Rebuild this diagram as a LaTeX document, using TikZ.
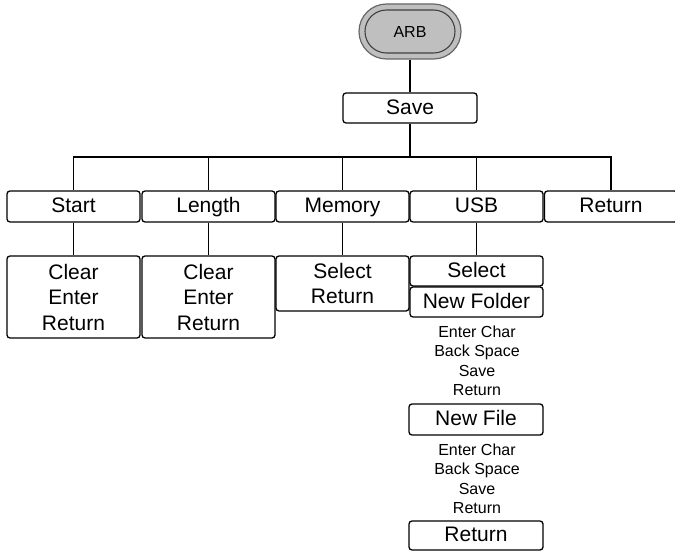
\documentclass[tikz,border=0pt]{standalone}
\usepackage{fontspec}
\setmainfont{Liberation Sans}
\begin{document}
\begin{tikzpicture}[x=1pt,y=1pt,
  line width=1.3pt,
  btn/.style={draw=black, rounded corners=3pt, inner sep=0pt, align=center,
    font=\fontsize{21}{25.5}\selectfont, minimum width=133pt},
  one/.style={text height=15pt, text depth=2.5pt},
  small/.style={inner sep=0pt, align=center, font=\fontsize{16}{19.5}\selectfont},
  link/.style={draw=black, line width=1.3pt}
]
\useasboundingbox (0,0) rectangle (675,-551);
% ARB terminal
\node[draw=black!60, fill=black!25, line width=1.2pt, rounded corners=27.5pt,
  minimum width=102pt, minimum height=55pt, inner sep=0pt] (arbo) at (410,-31.5) {};
\node[draw=black!75, fill=black!25, line width=1.1pt, rounded corners=21.5pt,
  minimum width=90pt, minimum height=43pt, inner sep=0pt,
  font=\fontsize{16}{19}\selectfont] (arb) at (410,-31.5) {ARB};
% Save
\node[btn, one, minimum width=134pt, minimum height=30pt] (save) at (410,-108) {Save};
% first row
\node[btn, one, minimum height=31pt] (start) at (73.5,-206.5) {Start};
\node[btn, one, minimum height=31pt] (length) at (208.5,-206.5) {Length};
\node[btn, one, minimum height=31pt] (memory) at (342.5,-206.5) {Memory};
\node[btn, one, minimum height=31pt] (usb) at (476.5,-206.5) {USB};
\node[btn, one, minimum height=31pt] (ret) at (611,-206.5) {Return};
% second row
\node[btn, minimum height=82pt] (startsub) at (73.5,-297) {Clear\\Enter\\Return};
\node[btn, minimum height=82pt] (lengthsub) at (208.5,-297) {Clear\\Enter\\Return};
\node[btn, minimum height=55pt] (memsub) at (342.5,-283.5) {Select\\Return};
\node[btn, one, minimum height=30pt] (usbsel) at (476.5,-271) {Select};
\node[btn, one, minimum height=30pt] (newfolder) at (476.5,-302) {New Folder};
\node[small] (folderopts) at (477,-361) {Enter Char\\Back Space\\Save\\Return};
\node[btn, one, minimum width=134pt, minimum height=31pt] (newfile) at (476,-419.5) {New File};
\node[small] (fileopts) at (477,-479) {Enter Char\\Back Space\\Save\\Return};
\node[btn, one, minimum width=134pt, minimum height=29pt] (usbret) at (476,-535.5) {Return};
% connectors
\coordinate (bus) at (410,-157);
\draw[link] (arbo.south) -- (save.north);
\draw[link] (save.south) -- (bus);
\draw[link] (start.north) |- (bus) -| (ret.north);
\draw[link] (length.north) -- (length.north |- bus);
\draw[link] (memory.north) -- (memory.north |- bus);
\draw[link] (usb.north) -- (usb.north |- bus);
\draw[link] (start.south) -- (startsub.north);
\draw[link] (length.south) -- (lengthsub.north);
\draw[link] (memory.south) -- (memsub.north);
\draw[link] (usb.south) -- (usbsel.north);
\end{tikzpicture}
\end{document}
